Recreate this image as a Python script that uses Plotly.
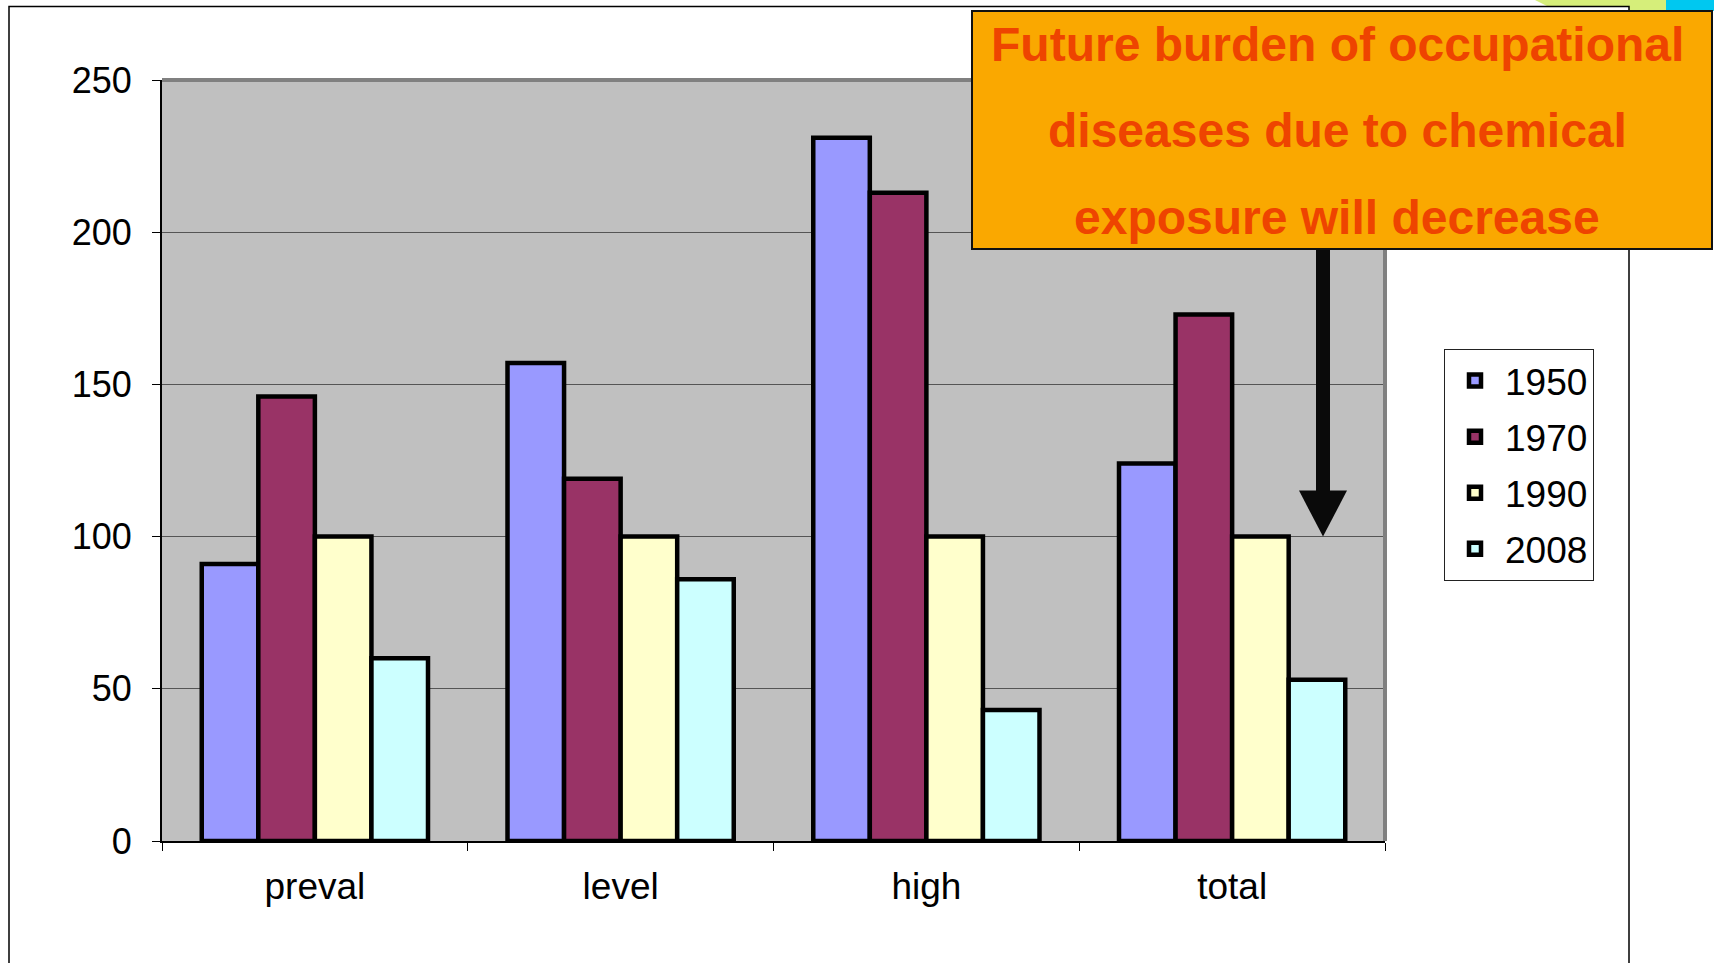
import plotly.graph_objects as go

# Category labels and yearly series values
categories = ["preval", "level", "high", "total"]
years = ["1950", "1970", "1990", "2008"]
v1950 = [91, 157, 231, 124]
v1970 = [146, 119, 213, 173]
v1990 = [100, 100, 100, 100]
v2008 = [60, 86, 43, 53]
series = [v1950, v1970, v1990, v2008]
colors = ["#9999FF", "#993366", "#FFFFCC", "#CCFFFF"]

y_ticks = [0, 50, 100, 150, 200, 250]
headline = ["Future burden of occupational",
            "diseases due to chemical",
            "exposure will decrease"]
arrow_tip_value = 100

W, H = 1714, 963
L, R, T, B = 162, 1385, 80, 841   # plot area in pixels
pw, ph = R - L, B - T


def px(x):
    return (x - L) / pw


def py(y):
    return (B - y) / ph


FONT = "Liberation Sans, Arial, Helvetica, sans-serif"

fig = go.Figure()
for yr, vals, col in zip(years, series, colors):
    fig.add_trace(go.Bar(
        x=categories, y=vals, name=yr, legendgroup=yr,
        marker=dict(color=col, line=dict(color="black", width=4.5)),
    ))

shapes = []
# outer slide frame and corner decoration
shapes.append(dict(type="path", xref="paper", yref="paper", layer="below",
                   path=f"M {px(1535)},{py(0)} L {px(1666)},{py(0)} L {px(1666)},{py(11)} "
                        f"L {px(1629)},{py(11)} L {px(1629)},{py(6.5)} L {px(1548)},{py(6.5)} Z",
                   fillcolor="#D6EE7A", line=dict(width=0)))
shapes.append(dict(type="rect", xref="paper", yref="paper", layer="below",
                   x0=px(1666), x1=px(1714), y0=py(11), y1=py(0),
                   fillcolor="#00C8F0", line=dict(width=0)))
shapes.append(dict(type="rect", xref="paper", yref="paper", layer="below",
                   x0=px(9), x1=px(1629), y0=py(980), y1=py(6.5),
                   line=dict(color="black", width=1.5)))
# plot-area frame (top / right edges)
shapes.append(dict(type="line", xref="paper", yref="paper", layer="above",
                   x0=0, x1=1, y0=1, y1=1, line=dict(color="#808080", width=4)))
shapes.append(dict(type="line", xref="paper", yref="paper", layer="above",
                   x0=1, x1=1, y0=0, y1=1, line=dict(color="#808080", width=4)))

# downward arrow pointing at the 100 level
ax_c = px(1323)
shaft_half = 7 / pw
head_half = 24 / pw
head_top = arrow_tip_value + 46 / (ph / 250)
shapes.append(dict(type="rect", xref="paper", yref="y", layer="above",
                   x0=ax_c - shaft_half, x1=ax_c + shaft_half, y0=head_top - 1, y1=210,
                   fillcolor="#0A0A0A", line=dict(width=0)))
shapes.append(dict(type="path", xref="paper", yref="y", layer="above",
                   path=f"M {ax_c - head_half},{head_top} L {ax_c + head_half},{head_top} "
                        f"L {ax_c},{arrow_tip_value} Z",
                   fillcolor="#0A0A0A", line=dict(width=0)))

# headline box
shapes.append(dict(type="rect", xref="paper", yref="paper", layer="above",
                   x0=px(972), x1=px(1712), y0=py(249), y1=py(11),
                   fillcolor="#FAA800", line=dict(color="#111111", width=2)))

annotations = []
for text, yc in zip(headline, [44, 130, 217]):
    annotations.append(dict(
        text=f"<b>{text}</b>", xref="paper", yref="paper",
        x=px(1337), y=py(yc), xanchor="center", yanchor="middle",
        showarrow=False, font=dict(family=FONT, size=48, color="#EE4400"),
    ))

fig.update_layout(
    width=W, height=H,
    margin=dict(l=L, r=W - R, t=T, b=H - B, pad=0),
    paper_bgcolor="white",
    plot_bgcolor="#C0C0C0",
    barmode="group", bargap=0.26, bargroupgap=0,
    font=dict(family=FONT, color="black"),
    shapes=shapes,
    annotations=annotations,
    legend=dict(
        x=px(1444), y=py(349), xanchor="left", yanchor="top",
        bgcolor="white", bordercolor="#222222", borderwidth=1,
        font=dict(family=FONT, size=37, color="black"),
        tracegroupgap=5, itemwidth=50,
    ),
    xaxis=dict(
        type="category", range=[-0.5, 3.5],
        showline=True, linecolor="black", linewidth=2,
        ticks="outside", ticklen=8, tickcolor="black", tickwidth=1,
        tickson="boundaries", showgrid=False,
        tickfont=dict(family=FONT, size=37, color="black"),
        ticklabelstandoff=12,
    ),
    yaxis=dict(
        range=[0, 250], tickvals=y_ticks,
        showline=True, linecolor="black", linewidth=2,
        ticks="outside", ticklen=8, tickcolor="black", tickwidth=1,
        showgrid=True, gridcolor="#555555", gridwidth=1,
        zeroline=False,
        tickfont=dict(family=FONT, size=36, color="black"),
        ticklabelstandoff=13,
    ),
)

fig.write_html("out.html")
